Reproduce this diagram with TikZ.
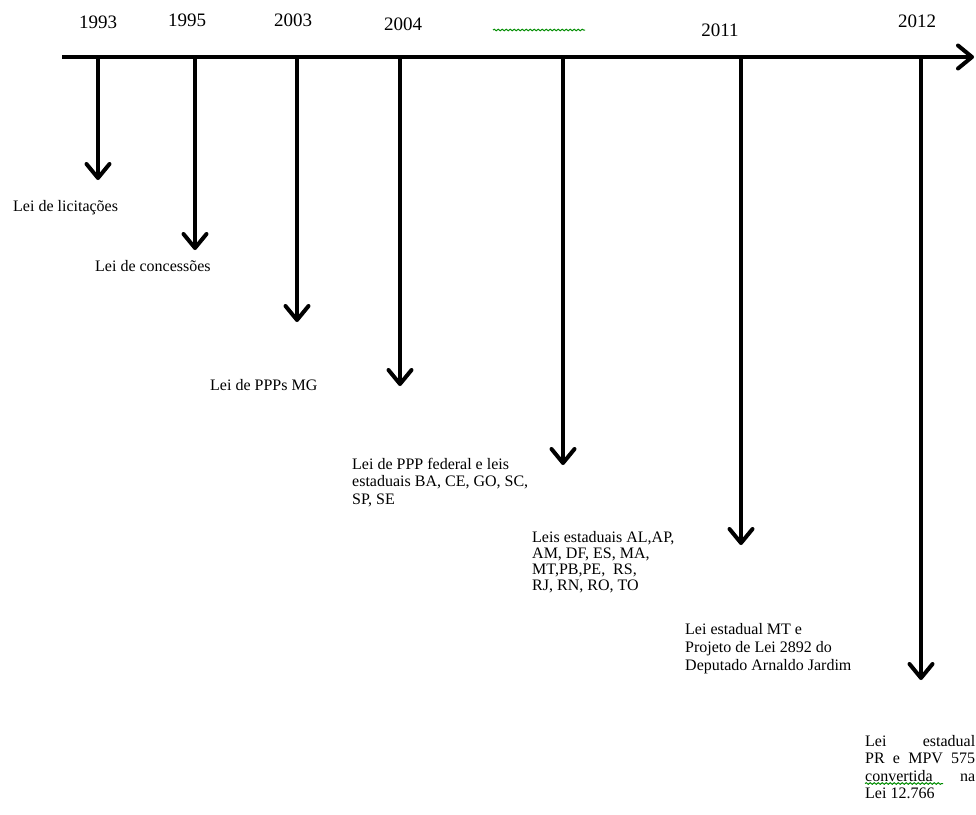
\documentclass[tikz,border=0pt]{standalone}
\usepackage{fontspec}
\setmainfont{Liberation Serif}
\usetikzlibrary{arrows.meta,decorations.pathmorphing}
\begin{document}
\begin{tikzpicture}[x=1pt,y=-1pt,
  tl/.style={line width=4pt, -{Straight Barb[length=14pt,width=23pt,round]}},
  yr/.style={font=\fontsize{19}{21}\selectfont, inner sep=0},
  lbl/.style={font=\fontsize{16}{17.5}\selectfont, inner sep=0, align=left, anchor=north west},
  squig/.style={draw=green!55!black, line width=1pt, decorate, decoration={snake, amplitude=0.8pt, segment length=4pt}}
  ]
\useasboundingbox (0,0) rectangle (976,814);
% axis
\coordinate (a0) at (62,57);
\coordinate (aE) at (974,57);
\draw[tl] (a0) -- (aE);
% axis points and tips
\coordinate (t1) at (98,57);  \coordinate (e1) at (98,180);
\coordinate (t2) at (195,57); \coordinate (e2) at (195,250);
\coordinate (t3) at (297,57); \coordinate (e3) at (297,322);
\coordinate (t4) at (400,57); \coordinate (e4) at (400,386);
\coordinate (t5) at (563,57); \coordinate (e5) at (563,465);
\coordinate (t6) at (741,57); \coordinate (e6) at (741,545);
\coordinate (t7) at (921,57); \coordinate (e7) at (921,680);
\foreach \i in {1,...,7} {\draw[tl] (t\i) -- (e\i);}
% years
\node[yr] (y1) at (98,22) {1993};
\node[yr] (y2) at (187,20) {1995};
\node[yr] (y3) at (293,20) {2003};
\node[yr] (y4) at (403,24) {2004};
\node[yr] (y6) at (720,30) {2011};
\node[yr] (y7) at (917,21) {2012};
% clipped text squiggle
\coordinate (s1) at (493,30);
\coordinate (s2) at (585,30);
\draw[squig] (s1) -- (s2);
% labels
\node[lbl] (l1) at (13,200) {Lei de licitações};
\node[lbl] (l2) at (95,260) {Lei de concessões};
\node[lbl] (l3) at (210,379) {Lei de PPPs MG};
\node[lbl] (l4) at (352,458) {Lei de PPP federal e leis\\estaduais BA, CE, GO, SC,\\SP, SE};
\node[lbl, font=\fontsize{16}{16}\selectfont] (l5) at (532,531) {Leis estaduais AL,AP,\\AM, DF, ES, MA,\\MT,PB,PE,\ \ RS,\\RJ, RN, RO, TO};
\node[lbl, font=\fontsize{16}{18}\selectfont] (l6) at (685,623) {Lei estadual MT e\\Projeto de Lei 2892 do\\Deputado Arnaldo Jardim};
\node[lbl, font=\fontsize{16}{17.5}\selectfont] (l7) at (865,735) {\makebox[110pt][s]{Lei estadual}\\\makebox[110pt][s]{PR e MPV 575}\\\makebox[110pt][s]{convertida na}\\Lei 12.766};
\coordinate (s3) at (865,783.5);
\coordinate (s4) at (943,783.5);
\draw[squig] (s3) -- (s4);
\end{tikzpicture}
\end{document}
